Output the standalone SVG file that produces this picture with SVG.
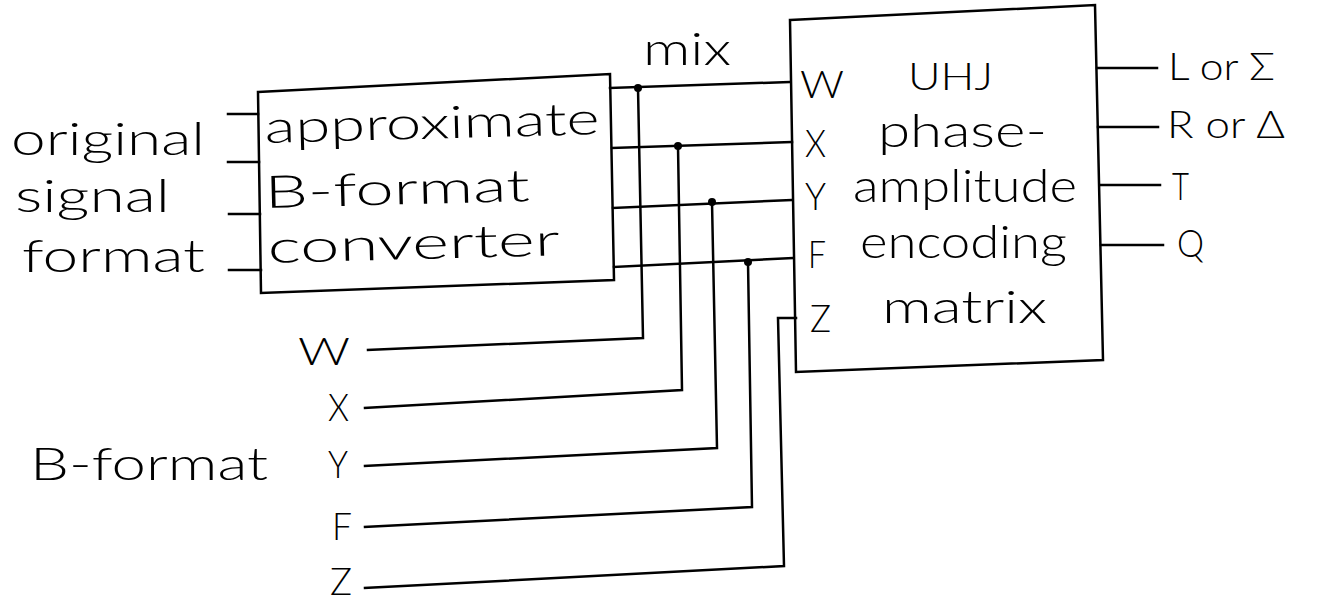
<svg xmlns="http://www.w3.org/2000/svg" width="1338" height="603" viewBox="0 0 1338 603">
<style>
.ln{fill:none;stroke:#000;stroke-width:2.5;stroke-linejoin:miter;stroke-linecap:square}
.bx{fill:#fff;stroke:#000;stroke-width:2.5}
.t{font-family:Lato,"DejaVu Sans",sans-serif;font-weight:300;font-size:45px;fill:#000}
.s{font-family:Lato,"DejaVu Sans",sans-serif;font-weight:300;font-size:37px;fill:#000}
.dot{fill:#000}
</style>
<rect width="1338" height="603" fill="#fff"/>
<g id="input-labels">
<text class="t" x="11" y="155" textLength="194" lengthAdjust="spacingAndGlyphs">original</text>
<text class="t" x="15" y="212" textLength="155" lengthAdjust="spacingAndGlyphs">signal</text>
<text class="t" x="22" y="272" textLength="183" lengthAdjust="spacingAndGlyphs">format</text>
</g>
<g id="converter">
<polygon class="bx" points="258,92 610,74 614,280 261,293"/>
<text class="t" x="265" y="143" textLength="335" lengthAdjust="spacingAndGlyphs" transform="rotate(-1.5 265 143)">approximate</text>
<text class="t" x="265" y="208" textLength="265" lengthAdjust="spacingAndGlyphs" transform="rotate(-1.5 265 208)">B-format</text>
<text class="t" x="268" y="263" textLength="292" lengthAdjust="spacingAndGlyphs" transform="rotate(-1.5 268 263)">converter</text>
</g>
<g id="encoder">
<polygon class="bx" points="790,20 1095,5 1103,360 796,372"/>
<text class="s" x="800" y="98" textLength="44" lengthAdjust="spacingAndGlyphs">W</text>
<text class="s" x="805" y="157" textLength="21" lengthAdjust="spacingAndGlyphs">X</text>
<text class="s" x="805" y="210" textLength="21" lengthAdjust="spacingAndGlyphs">Y</text>
<text class="s" x="808" y="268" textLength="18" lengthAdjust="spacingAndGlyphs">F</text>
<text class="s" x="810" y="332" textLength="21" lengthAdjust="spacingAndGlyphs">Z</text>
<text class="s" x="908" y="90" textLength="85" lengthAdjust="spacingAndGlyphs">UHJ</text>
<text class="t" x="878" y="147" textLength="169" lengthAdjust="spacingAndGlyphs">phase-</text>
<text class="t" x="853" y="202" textLength="224" lengthAdjust="spacingAndGlyphs">amplitude</text>
<text class="t" x="860" y="258" textLength="207" lengthAdjust="spacingAndGlyphs">encoding</text>
<text class="t" x="882" y="323" textLength="165" lengthAdjust="spacingAndGlyphs">matrix</text>
</g>
<g id="mix-label">
<text class="t" x="643" y="65" textLength="88" lengthAdjust="spacingAndGlyphs">mix</text>
</g>
<g id="output-labels">
<text class="s" x="1168" y="80" textLength="107" lengthAdjust="spacingAndGlyphs">L or Σ</text>
<text class="s" x="1167" y="138" textLength="118" lengthAdjust="spacingAndGlyphs">R or Δ</text>
<text class="s" x="1172" y="200" textLength="17" lengthAdjust="spacingAndGlyphs">T</text>
<text class="s" x="1177" y="257" textLength="27" lengthAdjust="spacingAndGlyphs">Q</text>
</g>
<g id="bformat-labels">
<text class="t" x="30" y="480" textLength="238" lengthAdjust="spacingAndGlyphs">B-format</text>
<text class="s" x="298" y="365" textLength="52" lengthAdjust="spacingAndGlyphs">W</text>
<text class="s" x="328" y="421" textLength="21" lengthAdjust="spacingAndGlyphs">X</text>
<text class="s" x="328" y="478" textLength="20" lengthAdjust="spacingAndGlyphs">Y</text>
<text class="s" x="332" y="540" textLength="20" lengthAdjust="spacingAndGlyphs">F</text>
<text class="s" x="330" y="595" textLength="22" lengthAdjust="spacingAndGlyphs">Z</text>
</g>
<g id="connectors">
<path class="ln" d="M228,114 H258 M228,162 H259 M229,214 H260 M229,270 H261"/>
<path class="ln" d="M610,88 L790,82 M612,148 L792,142 M613,208 L792,200 M614,267 L792,258"/>
<path class="ln" d="M638,88 L643,338 L368,350"/>
<path class="ln" d="M678,146 L682,390 L365,408"/>
<path class="ln" d="M712,202 L717,448 L365,466"/>
<path class="ln" d="M748,262 L752,507 L365,527"/>
<path class="ln" d="M796,318 L778,318 L784,566 L365,588"/>
<path class="ln" d="M1097,68 H1157 M1098,127 H1158 M1100,185 H1160 M1101,245 H1163"/>
<circle class="dot" cx="638" cy="88" r="4"/>
<circle class="dot" cx="678" cy="146" r="4"/>
<circle class="dot" cx="712" cy="202" r="4"/>
<circle class="dot" cx="748" cy="262" r="4"/>
</g>
</svg>
